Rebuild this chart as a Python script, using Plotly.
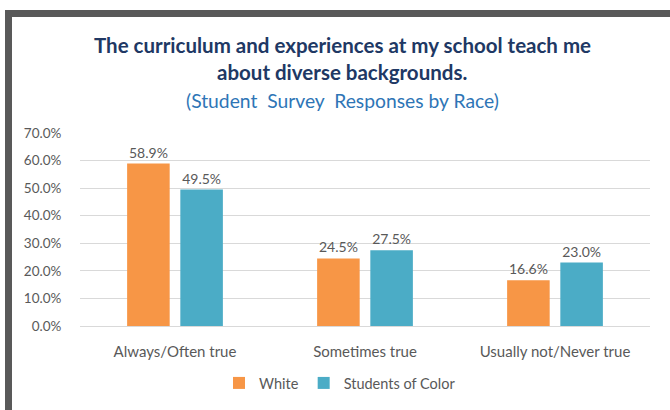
import plotly.graph_objects as go

categories = ["Always/Often true", "Sometimes true", "Usually not/Never true"]
white = [58.9, 24.5, 16.6]
students_of_color = [49.5, 27.5, 23.0]
series_names = ["White", "Students of Color"]
tick_vals = [0, 10, 20, 30, 40, 50, 60, 70]
tick_text = [f"{v:.1f}%" for v in tick_vals]
title_lines = ["The curriculum and experiences at my school teach me",
               "about diverse backgrounds.",
               "(Student  Survey  Responses by Race)"]

FONT = "Lato"
GRAY = "#595959"

fig = go.Figure()
fig.add_trace(go.Bar(
    x=categories, y=white, name=series_names[0],
    marker=dict(color="#F79646", line=dict(width=0)),
    text=[f"{v:.1f}%" for v in white], textposition="outside",
    textfont=dict(family=FONT, size=14, color=GRAY), cliponaxis=False,
))
fig.add_trace(go.Bar(
    x=categories, y=students_of_color, name=series_names[1],
    marker=dict(color="#4BACC6", line=dict(width=0)),
    text=[f"{v:.1f}%" for v in students_of_color], textposition="outside",
    textfont=dict(family=FONT, size=14, color=GRAY), cliponaxis=False,
))

L, R, T, B = 80, 20, 133, 83
W, H = 670, 410
pw, ph = W - L - R, H - T - B

def px(x):
    return (x - L) / pw

def py(y):
    return (H - B - y) / ph

annotations = []
ys = [45, 72, 100]
sizes = [20.5, 20.5, 19.3]
for i, (line, yy) in enumerate(zip(title_lines, ys)):
    annotations.append(dict(
        text=f"<b>{line}</b>" if i < 2 else line,
        x=px(342), y=py(yy), xref="paper", yref="paper",
        xanchor="center", yanchor="middle", showarrow=False,
        font=dict(family=FONT, size=sizes[i],
                  color="#203864" if i < 2 else "#2E75B6"),
    ))

shapes = [
    dict(type="rect", xref="paper", yref="paper",
         x0=px(8.5), x1=px(700), y0=py(440), y1=py(13),
         line=dict(color="#595959", width=7), fillcolor="rgba(0,0,0,0)", layer="below"),
]

fig.update_layout(
    width=W, height=H,
    margin=dict(l=L, r=R, t=T, b=B, pad=0),
    paper_bgcolor="white", plot_bgcolor="white",
    barmode="group", bargap=0.44, bargroupgap=0.2,
    font=dict(family=FONT, size=14, color=GRAY),
    showlegend=True,
    legend=dict(orientation="h", x=px(340), xanchor="center", y=py(383), yanchor="middle",
                font=dict(family=FONT, size=14.5, color=GRAY), itemwidth=30,
                traceorder="normal"),
    annotations=annotations,
    shapes=shapes,
)
fig.update_yaxes(
    range=[0, 70], tickvals=tick_vals, ticktext=tick_text,
    showgrid=True, gridcolor="#D9D9D9", gridwidth=1,
    zeroline=True, zerolinecolor="#D9D9D9", zerolinewidth=1,
    showline=False, ticks="outside", ticklen=15, tickcolor="rgba(0,0,0,0)",
    tickfont=dict(family=FONT, size=13.5, color=GRAY), fixedrange=True,
)
fig.update_xaxes(
    showline=False, showgrid=False, ticks="outside", ticklen=12, tickcolor="rgba(0,0,0,0)",
    tickfont=dict(family=FONT, size=15, color=GRAY),
)

fig.write_html("out.html", config={"displayModeBar": False},
               post_script="document.body.style.margin='0';")
